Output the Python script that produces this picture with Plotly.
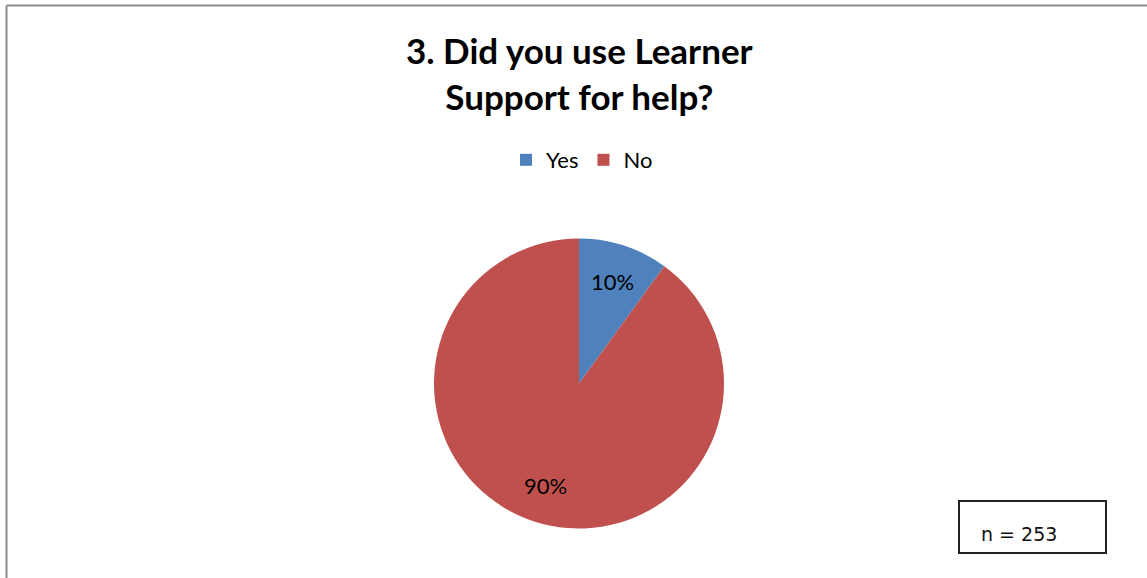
import math
import plotly.graph_objects as go

# Survey answers (percent of respondents)
answers = ["Yes", "No"]
shares = [10, 90]
slice_colors = ["#4F81BD", "#C0504D"]
respondents = 253

W, H = 1147, 578
FONT = "Lato"

# pie geometry in pixels
CX, CY, R = 579, 383.5, 145

fig = go.Figure(
    go.Pie(
        labels=answers,
        values=shares,
        marker=dict(colors=slice_colors, line=dict(width=0)),
        sort=False,
        direction="clockwise",
        rotation=0,
        textinfo="none",
        hoverinfo="label+percent",
        domain=dict(x=[(CX - R) / W, (CX + R) / W], y=[1 - (CY + R) / H, 1 - (CY - R) / H]),
    )
)

# value labels placed inside each slice along its mid-angle
total = sum(shares)
label_anns = []
start = 0.0
for val in shares:
    mid = (start + val / 2) / total * 2 * math.pi
    start += val
    rr = 0.74 * R
    px = CX + rr * math.sin(mid)
    py = CY - rr * math.cos(mid)
    label_anns.append(dict(
        text=f"{val}%", xref="paper", yref="paper",
        x=px / W, y=1 - py / H, xanchor="center", yanchor="middle",
        showarrow=False, font=dict(family=FONT, size=22, color="black"),
    ))

fig.update_layout(
    width=W,
    height=H,
    margin=dict(l=0, r=0, t=0, b=0),
    paper_bgcolor="white",
    plot_bgcolor="white",
    legend=dict(
        orientation="h",
        x=582 / W,
        xanchor="center",
        y=1 - 160 / H,
        yanchor="middle",
        font=dict(family=FONT, size=22, color="black"),
        itemwidth=30,
    ),
    shapes=[
        # chart area frame (top and left edges)
        dict(type="line", xref="paper", yref="paper",
             x0=6.5 / W, x1=1, y0=1 - 5.5 / H, y1=1 - 5.5 / H,
             line=dict(color="#8C8C8C", width=2)),
        dict(type="line", xref="paper", yref="paper",
             x0=6.5 / W, x1=6.5 / W, y0=0, y1=1 - 5.5 / H,
             line=dict(color="#8C8C8C", width=2)),
        # sample size box
        dict(type="rect", xref="paper", yref="paper",
             x0=959 / W, x1=1106 / W, y0=1 - 553 / H, y1=1 - 501 / H,
             line=dict(color="#222222", width=2), fillcolor="white"),
    ],
    annotations=[
        dict(text="<b>3. Did you use Learner<br>Support for help?</b>",
             xref="paper", yref="paper", x=579 / W, xanchor="center",
             y=1 - 73 / H, yanchor="middle", showarrow=False,
             font=dict(family=FONT, size=35, color="black")),
        dict(text=f"n = {respondents}", xref="paper", yref="paper",
             x=979 / W, xanchor="left", y=1 - 534 / H, yanchor="middle",
             showarrow=False,
             font=dict(family="DejaVu Sans", size=19, color="#111111")),
    ] + label_anns,
)

fig.write_html("out.html")
